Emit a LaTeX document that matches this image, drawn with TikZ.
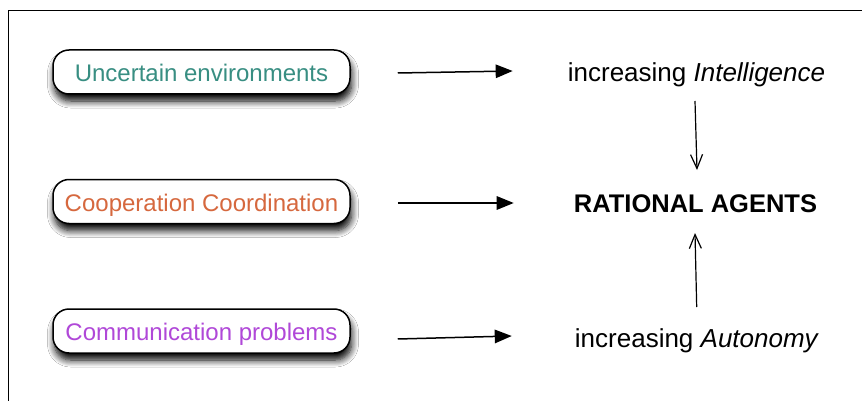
\documentclass[tikz,border=0pt]{standalone}
\usepackage{fontspec}
\setmainfont{Liberation Sans}
\usetikzlibrary{arrows.meta,shadows.blur}

\definecolor{envteal}{RGB}{56,142,130}
\definecolor{coopor}{RGB}{214,104,62}
\definecolor{commpu}{RGB}{176,72,216}

\tikzset{
  box/.style={draw=black, line width=1.5pt, rounded corners=16pt, fill=white,
    minimum width=297pt, minimum height=44pt, inner sep=0pt,
    text height=19pt, text depth=0pt,
    font=\fontsize{24}{28}\selectfont,
    blur shadow={shadow xshift=1.5pt, shadow yshift=-7pt,
      shadow blur radius=7pt, shadow blur steps=8, shadow opacity=100}},
  rtext/.style={anchor=base, inner sep=0pt, font=\fontsize{26}{30}\selectfont},
  harrow/.style={line width=1.5pt, -{Triangle[length=17pt,width=13.5pt]}},
  varrow/.style={line width=1.2pt, -{Straight Barb[length=14pt,width=12pt,line width=1.2pt]}}
}

\begin{document}
\begin{tikzpicture}[x=1pt,y=-1pt]
  \useasboundingbox (0,0) rectangle (862,401);
  \fill[white] (0,0) rectangle (862,401);

  % outer frame, only top and left edges fall inside the page
  \draw[line width=1pt] (8,401) -- (8,11) -- (862,11);

  % source boxes
  \node[box, text=envteal] (b1) at (201.5,72)    {Uncertain environments};
  \node[box, text=coopor]  (b2) at (201.5,201.5) {Cooperation Coordination};
  \node[box, text=commpu]  (b3) at (201.5,331)   {Communication problems};

  % right column
  \node[rtext] (int) at (696.5,82) {increasing \textit{Intelligence}};
  \node[rtext, font=\fontsize{25.5}{30}\selectfont\bfseries] (ra) at (695.5,212) {RATIONAL AGENTS};
  \node[rtext] (aut) at (697,347) {increasing \textit{Autonomy}};

  % horizontal arrows
  \draw[harrow] ([shift={(47,1)}]b1.east)   -- ([shift={(-55,-11)}]int.base west);
  \draw[harrow] ([shift={(47,1.5)}]b2.east) -- ([shift={(-60,-9)}]ra.base west);
  \draw[harrow] ([shift={(47,8)}]b3.east)   -- ([shift={(-63,-11)}]aut.base west);

  % vertical arrows into the centre
  \draw[varrow] ([shift={(-1.5,19)}]int.base) -- ([shift={(1.5,-42)}]ra.base);
  \draw[varrow] ([shift={(-0.3,-40)}]aut.base) -- ([shift={(-0.5,21)}]ra.base);
\end{tikzpicture}
\end{document}
